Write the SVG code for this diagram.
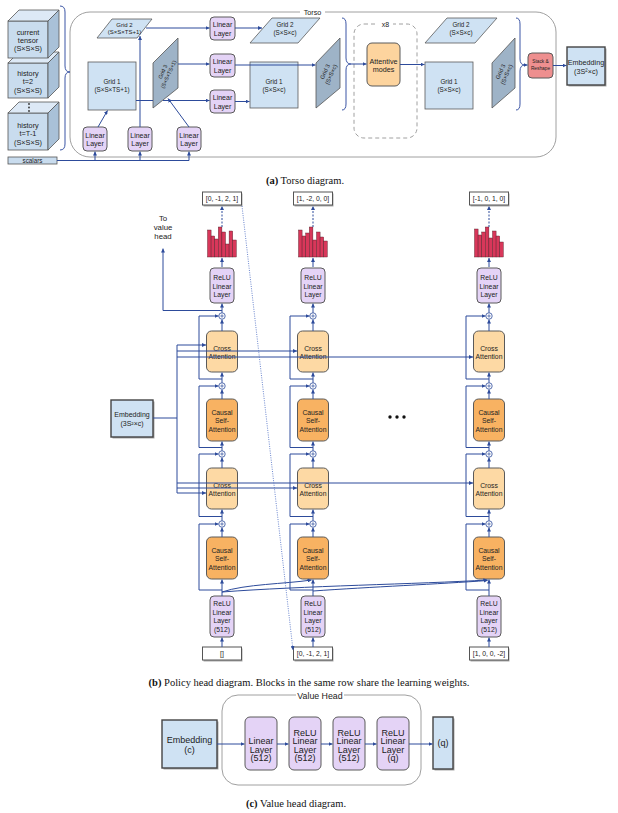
<svg xmlns="http://www.w3.org/2000/svg" width="618" height="813" viewBox="0 0 618 813">
<defs>
<style>
.t{font-family:"Liberation Sans",Arial,sans-serif;fill:#222;text-anchor:middle;dominant-baseline:central}
.cap{font-family:"Liberation Serif","Times New Roman",serif;font-size:10.5px;fill:#111;text-anchor:middle}
.c{stroke:#2d4b9b;stroke-width:1;fill:none}
.ca{stroke:#2d4b9b;stroke-width:1;fill:none;marker-end:url(#ar)}
.dash{stroke:#2d4b9b;stroke-width:1;fill:none;stroke-dasharray:2 1.5;marker-end:url(#ar)}
.dot{stroke:#5a78c8;stroke-width:0.9;fill:none;stroke-dasharray:1 1.3;marker-end:url(#ar)}
.br{stroke:#3b55a5;stroke-width:1;fill:none}
.blue{fill:#cfe2f3;stroke:#5a5a5a;stroke-width:0.8}
.dark{fill:#9eb3c7;stroke:#555;stroke-width:0.8}
.pur{fill:#e4d3f6;stroke:#5a5a5a;stroke-width:1}
.cross{fill:#fdd9a4;stroke:#5a5a5a;stroke-width:1}
.causal{fill:#f8b262;stroke:#5a5a5a;stroke-width:1}
.lbl{fill:#fff;stroke:#555;stroke-width:1}
.sh{fill:#aaa}
.emb{fill:#cfe2f3;stroke:#444;stroke-width:1.4}
.bar{fill:#d8375a;stroke:#4a1a22;stroke-width:0.4}
.circ{fill:#fff;stroke:#2d4b9b;stroke-width:0.8}
.frame{fill:none;stroke:#a0a0a0;stroke-width:1}
.cf{fill:#c9dcee;stroke:#555;stroke-width:0.8}
.ct{fill:#dde9f6;stroke:#555;stroke-width:0.8}
.cr{fill:#a9c1d8;stroke:#555;stroke-width:0.8}
</style>
<marker id="ar" viewBox="0 0 6 6" refX="6" refY="3" markerWidth="4" markerHeight="4" orient="auto" markerUnits="userSpaceOnUse">
<path d="M0,0 L6,3 L0,6 z" fill="#2d4b9b"/>
</marker>
</defs>
<rect width="618" height="813" fill="#fff"/>

<!-- ================= (a) TORSO ================= -->
<g id="torso-frame">
<rect class="frame" x="70" y="12" width="486" height="145" rx="20"/>
<rect x="300" y="8" width="25" height="8" fill="#fff"/>
<text class="t" x="312.5" y="12" font-size="7.2">Torso</text>
</g>

<g id="cube-history-t1">
<rect class="cf" x="8" y="113" width="40" height="37"/>
<polygon class="ct" points="8,113 19,102 59,102 48,113"/>
<polygon class="cr" points="48,113 59,102 59,139 48,150"/>
<text class="t" x="28" y="125" font-size="7.3">history</text>
<text class="t" x="28" y="133.5" font-size="7.3">t=T-1</text>
<text class="t" x="28" y="142" font-size="7.3">(S×S×S)</text>
</g>
<g id="cube-history-2">
<rect class="cf" x="8" y="63" width="40" height="35"/>
<polygon class="ct" points="8,63 19,52 59,52 48,63"/>
<polygon class="cr" points="48,63 59,52 59,87 48,98"/>
<text class="t" x="28" y="73" font-size="7.3">history</text>
<text class="t" x="28" y="81.5" font-size="7.3">t=2</text>
<text class="t" x="28" y="90" font-size="7.3">(S×S×S)</text>
</g>
<g id="cube-current">
<rect class="cf" x="8" y="21" width="40" height="37"/>
<polygon class="ct" points="8,21 19,10 59,10 48,21"/>
<polygon class="cr" points="48,21 59,10 59,47 48,58"/>
<text class="t" x="28" y="32" font-size="7.3">current</text>
<text class="t" x="28" y="40" font-size="7.3">tensor</text>
<text class="t" x="28" y="48" font-size="7.3">(S×S×S)</text>
</g>
<g id="cube-dots" fill="#333">
<circle cx="29" cy="104" r="0.9"/><circle cx="29" cy="107.5" r="0.9"/><circle cx="29" cy="111" r="0.9"/>
</g>
<g id="scalars">
<rect class="cf" x="8" y="157" width="49" height="7"/>
<text class="t" x="32.5" y="160.7" font-size="6.3">scalars</text>
</g>

<g id="t-lin-a"><rect class="pur" x="83" y="127" width="24" height="24" rx="4"/>
<text class="t" x="95" y="135" font-size="7">Linear</text><text class="t" x="95" y="143.5" font-size="7">Layer</text></g>
<g id="t-lin-b"><rect class="pur" x="128" y="127" width="24" height="24" rx="4"/>
<text class="t" x="140" y="135" font-size="7">Linear</text><text class="t" x="140" y="143.5" font-size="7">Layer</text></g>
<g id="t-lin-c"><rect class="pur" x="177" y="127" width="24" height="24" rx="4"/>
<text class="t" x="189" y="135" font-size="7">Linear</text><text class="t" x="189" y="143.5" font-size="7">Layer</text></g>

<g id="t-grid2-in">
<polygon class="blue" points="97,38 112,19 152,19 137,38"/>
<text class="t" x="124.5" y="24.5" font-size="6">Grid 2</text>
<text class="t" x="124.5" y="31.5" font-size="6">(S×S×TS+1)</text>
</g>
<g id="t-grid1-in">
<rect class="blue" x="88" y="62" width="48" height="48"/>
<text class="t" x="112" y="81" font-size="6.3">Grid 1</text>
<text class="t" x="112" y="89" font-size="6.3">(S×S×TS+1)</text>
</g>
<g id="t-grid3-in">
<polygon class="dark" points="153,63 178,38 178,88 153,108"/>
<g transform="translate(165.5,73) rotate(-66)">
<text class="t" x="0" y="-3.2" font-size="5.4">Grid 3</text>
<text class="t" x="0" y="3.2" font-size="5.4">(S×S×TS+1)</text>
</g>
</g>

<g id="t-lin-1"><rect class="pur" x="210" y="17" width="25" height="23" rx="4"/>
<text class="t" x="222.5" y="24.5" font-size="7">Linear</text><text class="t" x="222.5" y="33" font-size="7">Layer</text></g>
<g id="t-lin-2"><rect class="pur" x="210" y="54" width="25" height="23" rx="4"/>
<text class="t" x="222.5" y="61.5" font-size="7">Linear</text><text class="t" x="222.5" y="70" font-size="7">Layer</text></g>
<g id="t-lin-3"><rect class="pur" x="210" y="90" width="25" height="23" rx="4"/>
<text class="t" x="222.5" y="97.5" font-size="7">Linear</text><text class="t" x="222.5" y="106" font-size="7">Layer</text></g>

<g id="t-grid2-mid">
<polygon class="blue" points="250,43 272,18 320,18 298,43"/>
<text class="t" x="285" y="24.5" font-size="6.3">Grid 2</text>
<text class="t" x="285" y="32.5" font-size="6.3">(S×S×c)</text>
</g>
<g id="t-grid1-mid">
<rect class="blue" x="250" y="62" width="48" height="46"/>
<text class="t" x="274" y="81" font-size="6.3">Grid 1</text>
<text class="t" x="274" y="89" font-size="6.3">(S×S×c)</text>
</g>
<g id="t-grid3-mid">
<polygon class="dark" points="316,63 340,38 340,88 316,108"/>
<g transform="translate(328,73) rotate(-66)">
<text class="t" x="0" y="-3.4" font-size="5.8">Grid 3</text>
<text class="t" x="0" y="3.4" font-size="5.8">(S×S×c)</text>
</g>
</g>

<g id="x8-frame">
<rect x="354" y="24" width="63" height="114" rx="10" fill="none" stroke="#a0a0a0" stroke-width="1" stroke-dasharray="4 3"/>
<rect x="378" y="20" width="15" height="8" fill="#fff"/>
<text class="t" x="385.5" y="24.5" font-size="7">x8</text>
</g>
<g id="attentive-modes">
<rect x="367" y="43" width="33" height="43" rx="5" fill="#fdd49e" stroke="#5a5a5a" stroke-width="1"/>
<text class="t" x="383.5" y="61" font-size="7.2">Attentive</text>
<text class="t" x="383.5" y="69.5" font-size="7.2">modes</text>
</g>

<g id="t-grid2-out">
<polygon class="blue" points="425,43 447,18 497,18 475,43"/>
<text class="t" x="461" y="24.5" font-size="6.3">Grid 2</text>
<text class="t" x="461" y="32.5" font-size="6.3">(S×S×c)</text>
</g>
<g id="t-grid1-out">
<rect class="blue" x="425" y="62" width="48" height="47"/>
<text class="t" x="449" y="81" font-size="6.3">Grid 1</text>
<text class="t" x="449" y="89" font-size="6.3">(S×S×c)</text>
</g>
<g id="t-grid3-out">
<polygon class="dark" points="492,63 515,38 515,88 492,108"/>
<g transform="translate(503.5,73) rotate(-66)">
<text class="t" x="0" y="-3.4" font-size="5.8">Grid 3</text>
<text class="t" x="0" y="3.4" font-size="5.8">(S×S×c)</text>
</g>
</g>
<g id="stack-reshape">
<rect x="528" y="53" width="25" height="25" rx="4" fill="#ee8f8f" stroke="#5a5a5a" stroke-width="1"/>
<text class="t" x="540.5" y="61.5" font-size="4.8">Stack &amp;</text>
<text class="t" x="540.5" y="68.5" font-size="4.8">Reshape</text>
</g>
<g id="torso-embedding">
<rect class="sh" x="568.5" y="48.5" width="38" height="38"/>
<rect class="emb" x="567" y="47" width="38" height="38"/>
<text class="t" x="586" y="62" font-size="7.2">Embedding</text>
<text class="t" x="586" y="71.5" font-size="7.2">(3S²×c)</text>
</g>

<g id="torso-connectors">
<path class="br" d="M60,6 Q65,6 65,12 V66 Q65,72 70,72 Q65,72 65,78 V144 Q65,150 60,150"/>
<path class="c" d="M57,160.5 H189"/>
<path class="ca" d="M95,160.5 V151.5"/>
<path class="ca" d="M140,160.5 V151.5"/>
<path class="ca" d="M189,160.5 V151.5"/>
<path class="ca" d="M98,127 L107.5,110.5"/>
<path class="ca" d="M140,127 V36"/>
<path class="ca" d="M189,127 L168,98.5"/>
<path class="ca" d="M146,28 H209.5"/>
<path class="ca" d="M178,64 H209.5"/>
<path class="c" d="M136,100.5 H153"/>
<path class="ca" d="M163,100.5 H209.5"/>
<path class="ca" d="M235,28 H262"/>
<path class="ca" d="M235,65 H315.5"/>
<path class="ca" d="M235,101.5 H249.5"/>
<path class="br" d="M342,18 Q346,18 346,24 V58 Q346,64 351,64 Q346,64 346,70 V104 Q346,110 342,110"/>
<path class="ca" d="M351,64 H366.5"/>
<path class="ca" d="M400,64.5 H424.5"/>
<path class="br" d="M516,18 Q520,18 520,24 V59 Q520,65 525,65 Q520,65 520,71 V104 Q520,110 516,110"/>
<path class="ca" d="M525,65 H527.5"/>
<path class="ca" d="M553,65.5 H566.5"/>
</g>

<text class="cap" x="305" y="184"><tspan font-weight="bold">(a)</tspan> Torso diagram.</text>

<!-- ================= (b) POLICY HEAD ================= -->
<g id="p-embedding">
<rect class="sh" x="112.5" y="401.5" width="42" height="37"/>
<rect class="emb" x="111" y="400" width="42" height="37"/>
<text class="t" x="132" y="414.5" font-size="7">Embedding</text>
<text class="t" x="132" y="423.5" font-size="7">(3S²×c)</text>
</g>
<text class="t" x="163" y="218" font-size="7.8">To</text>
<text class="t" x="163" y="227" font-size="7.8">value</text>
<text class="t" x="163" y="236" font-size="7.8">head</text>
<g id="p-ellipsis" fill="#111">
<circle cx="390" cy="417" r="1.7"/><circle cx="397" cy="417" r="1.7"/><circle cx="404" cy="417" r="1.7"/>
</g>

<!-- Column 1 (c=222) -->
<g id="p1-out"><rect class="sh" x="203.5" y="193.5" width="39" height="13"/><rect class="lbl" x="202.5" y="192" width="39" height="13"/>
<text class="t" x="222" y="198.5" font-size="6.8">[0, -1, 2, 1]</text></g>
<g id="p1-hist">
<rect class="bar" x="207.5" y="230" width="3.6" height="27"/><rect class="bar" x="211.1" y="236" width="3.6" height="21"/>
<rect class="bar" x="214.7" y="239" width="3.6" height="18"/><rect class="bar" x="218.3" y="227" width="3.6" height="30"/>
<rect class="bar" x="221.9" y="232" width="3.6" height="25"/><rect class="bar" x="225.5" y="244" width="3.6" height="13"/>
<rect class="bar" x="229.1" y="231" width="3.6" height="26"/><rect class="bar" x="232.7" y="240" width="3.6" height="17"/>
</g>
<g id="p1-relu"><rect class="pur" x="210" y="268" width="24" height="35" rx="4"/>
<text class="t" x="222" y="277.5" font-size="6.8">ReLU</text><text class="t" x="222" y="286" font-size="6.8">Linear</text><text class="t" x="222" y="294.5" font-size="6.8">Layer</text></g>
<g id="p1-cross1"><rect class="cross" x="206.5" y="331" width="31" height="41" rx="5"/>
<text class="t" x="222" y="348" font-size="6.8">Cross</text><text class="t" x="222" y="356.5" font-size="6.8">Attention</text></g>
<g id="p1-causal1"><rect class="causal" x="206.5" y="399" width="31" height="42" rx="5"/>
<text class="t" x="222" y="412" font-size="6.8">Causal</text><text class="t" x="222" y="420.5" font-size="6.8">Self-</text><text class="t" x="222" y="429" font-size="6.8">Attention</text></g>
<g id="p1-cross2"><rect class="cross" x="206.5" y="468" width="31" height="41" rx="5"/>
<text class="t" x="222" y="485" font-size="6.8">Cross</text><text class="t" x="222" y="493.5" font-size="6.8">Attention</text></g>
<g id="p1-causal2"><rect class="causal" x="206.5" y="537" width="31" height="42" rx="5"/>
<text class="t" x="222" y="550" font-size="6.8">Causal</text><text class="t" x="222" y="558.5" font-size="6.8">Self-</text><text class="t" x="222" y="567" font-size="6.8">Attention</text></g>
<g id="p1-relu512"><rect class="pur" x="210" y="596" width="24" height="41" rx="4"/>
<text class="t" x="222" y="603.5" font-size="6.8">ReLU</text><text class="t" x="222" y="612" font-size="6.8">Linear</text><text class="t" x="222" y="620.5" font-size="6.8">Layer</text><text class="t" x="222" y="629" font-size="6.8">(512)</text></g>
<g id="p1-in"><rect class="sh" x="203.5" y="648.5" width="39" height="13"/><rect class="lbl" x="202.5" y="647" width="39" height="13"/>
<text class="t" x="222" y="653.5" font-size="6.8">[]</text></g>

<!-- Column 2 (c=313) -->
<g id="p2-out"><rect class="sh" x="294.5" y="193.5" width="39" height="13"/><rect class="lbl" x="293.5" y="192" width="39" height="13"/>
<text class="t" x="313" y="198.5" font-size="6.8">[1, -2, 0, 0]</text></g>
<g id="p2-hist">
<rect class="bar" x="298.5" y="230" width="3.6" height="27"/><rect class="bar" x="302.1" y="236" width="3.6" height="21"/>
<rect class="bar" x="305.7" y="233" width="3.6" height="24"/><rect class="bar" x="309.3" y="227" width="3.6" height="30"/>
<rect class="bar" x="312.9" y="240" width="3.6" height="17"/><rect class="bar" x="316.5" y="232" width="3.6" height="25"/>
<rect class="bar" x="320.1" y="237" width="3.6" height="20"/><rect class="bar" x="323.7" y="241" width="3.6" height="16"/>
</g>
<g id="p2-relu"><rect class="pur" x="301" y="268" width="24" height="35" rx="4"/>
<text class="t" x="313" y="277.5" font-size="6.8">ReLU</text><text class="t" x="313" y="286" font-size="6.8">Linear</text><text class="t" x="313" y="294.5" font-size="6.8">Layer</text></g>
<g id="p2-cross1"><rect class="cross" x="297.5" y="331" width="31" height="41" rx="5"/>
<text class="t" x="313" y="348" font-size="6.8">Cross</text><text class="t" x="313" y="356.5" font-size="6.8">Attention</text></g>
<g id="p2-causal1"><rect class="causal" x="297.5" y="399" width="31" height="42" rx="5"/>
<text class="t" x="313" y="412" font-size="6.8">Causal</text><text class="t" x="313" y="420.5" font-size="6.8">Self-</text><text class="t" x="313" y="429" font-size="6.8">Attention</text></g>
<g id="p2-cross2"><rect class="cross" x="297.5" y="468" width="31" height="41" rx="5"/>
<text class="t" x="313" y="485" font-size="6.8">Cross</text><text class="t" x="313" y="493.5" font-size="6.8">Attention</text></g>
<g id="p2-causal2"><rect class="causal" x="297.5" y="537" width="31" height="42" rx="5"/>
<text class="t" x="313" y="550" font-size="6.8">Causal</text><text class="t" x="313" y="558.5" font-size="6.8">Self-</text><text class="t" x="313" y="567" font-size="6.8">Attention</text></g>
<g id="p2-relu512"><rect class="pur" x="301" y="596" width="24" height="41" rx="4"/>
<text class="t" x="313" y="603.5" font-size="6.8">ReLU</text><text class="t" x="313" y="612" font-size="6.8">Linear</text><text class="t" x="313" y="620.5" font-size="6.8">Layer</text><text class="t" x="313" y="629" font-size="6.8">(512)</text></g>
<g id="p2-in"><rect class="sh" x="294.5" y="648.5" width="39" height="13"/><rect class="lbl" x="293.5" y="647" width="39" height="13"/>
<text class="t" x="313" y="653.5" font-size="6.8">[0, -1, 2, 1]</text></g>

<!-- Column 3 (c=489) -->
<g id="p3-out"><rect class="sh" x="470.5" y="193.5" width="39" height="13"/><rect class="lbl" x="469.5" y="192" width="39" height="13"/>
<text class="t" x="489" y="198.5" font-size="6.8">[-1, 0, 1, 0]</text></g>
<g id="p3-hist">
<rect class="bar" x="474.5" y="229" width="3.6" height="28"/><rect class="bar" x="478.1" y="235" width="3.6" height="22"/>
<rect class="bar" x="481.7" y="232" width="3.6" height="25"/><rect class="bar" x="485.3" y="227" width="3.6" height="30"/>
<rect class="bar" x="488.9" y="238" width="3.6" height="19"/><rect class="bar" x="492.5" y="231" width="3.6" height="26"/>
<rect class="bar" x="496.1" y="236" width="3.6" height="21"/><rect class="bar" x="499.7" y="242" width="3.6" height="15"/>
</g>
<g id="p3-relu"><rect class="pur" x="477" y="268" width="24" height="35" rx="4"/>
<text class="t" x="489" y="277.5" font-size="6.8">ReLU</text><text class="t" x="489" y="286" font-size="6.8">Linear</text><text class="t" x="489" y="294.5" font-size="6.8">Layer</text></g>
<g id="p3-cross1"><rect class="cross" x="473.5" y="331" width="31" height="41" rx="5"/>
<text class="t" x="489" y="348" font-size="6.8">Cross</text><text class="t" x="489" y="356.5" font-size="6.8">Attention</text></g>
<g id="p3-causal1"><rect class="causal" x="473.5" y="399" width="31" height="42" rx="5"/>
<text class="t" x="489" y="412" font-size="6.8">Causal</text><text class="t" x="489" y="420.5" font-size="6.8">Self-</text><text class="t" x="489" y="429" font-size="6.8">Attention</text></g>
<g id="p3-cross2"><rect class="cross" x="473.5" y="468" width="31" height="41" rx="5"/>
<text class="t" x="489" y="485" font-size="6.8">Cross</text><text class="t" x="489" y="493.5" font-size="6.8">Attention</text></g>
<g id="p3-causal2"><rect class="causal" x="473.5" y="537" width="31" height="42" rx="5"/>
<text class="t" x="489" y="550" font-size="6.8">Causal</text><text class="t" x="489" y="558.5" font-size="6.8">Self-</text><text class="t" x="489" y="567" font-size="6.8">Attention</text></g>
<g id="p3-relu512"><rect class="pur" x="477" y="596" width="24" height="41" rx="4"/>
<text class="t" x="489" y="603.5" font-size="6.8">ReLU</text><text class="t" x="489" y="612" font-size="6.8">Linear</text><text class="t" x="489" y="620.5" font-size="6.8">Layer</text><text class="t" x="489" y="629" font-size="6.8">(512)</text></g>
<g id="p3-in"><rect class="sh" x="470.5" y="648.5" width="39" height="13"/><rect class="lbl" x="469.5" y="647" width="39" height="13"/>
<text class="t" x="489" y="653.5" font-size="6.8">[1, 0, 0, -2]</text></g>

<!-- sum nodes -->
<g id="p-sums">
<g><circle class="circ" cx="222" cy="316" r="3.2"/><circle class="circ" cx="222" cy="386" r="3.2"/><circle class="circ" cx="222" cy="454" r="3.2"/><circle class="circ" cx="222" cy="524" r="3.2"/></g>
<g><circle class="circ" cx="313" cy="316" r="3.2"/><circle class="circ" cx="313" cy="386" r="3.2"/><circle class="circ" cx="313" cy="454" r="3.2"/><circle class="circ" cx="313" cy="524" r="3.2"/></g>
<g><circle class="circ" cx="489" cy="316" r="3.2"/><circle class="circ" cx="489" cy="386" r="3.2"/><circle class="circ" cx="489" cy="454" r="3.2"/><circle class="circ" cx="489" cy="524" r="3.2"/></g>
<path stroke="#2d4b9b" stroke-width="0.7" fill="none" d="M220.3,316h3.4M222,314.3v3.4M220.3,386h3.4M222,384.3v3.4M220.3,454h3.4M222,452.3v3.4M220.3,524h3.4M222,522.3v3.4
M311.3,316h3.4M313,314.3v3.4M311.3,386h3.4M313,384.3v3.4M311.3,454h3.4M313,452.3v3.4M311.3,524h3.4M313,522.3v3.4
M487.3,316h3.4M489,314.3v3.4M487.3,386h3.4M489,384.3v3.4M487.3,454h3.4M489,452.3v3.4M487.3,524h3.4M489,522.3v3.4"/>
</g>

<g id="policy-connectors">
<!-- column 1 -->
<path class="dash" d="M222,227 V206"/>
<path class="ca" d="M222,267 V258"/>
<path class="ca" d="M222,312.8 V303.5"/>
<path class="ca" d="M222,331 V319.5"/>
<path class="ca" d="M222,382.8 V372.5"/>
<path class="ca" d="M222,399 V389.5"/>
<path class="ca" d="M222,450.8 V441.5"/>
<path class="ca" d="M222,468 V457.5"/>
<path class="ca" d="M222,520.8 V509.5"/>
<path class="ca" d="M222,537 V527.5"/>
<path class="ca" d="M222,596 V579.5"/>
<path class="ca" d="M222,647 V637.5"/>
<path class="ca" d="M222,379 H199 V316 H218.5"/>
<path class="ca" d="M222,447.5 H199 V386 H218.5"/>
<path class="ca" d="M222,516.5 H199 V454 H218.5"/>
<path class="ca" d="M222,590 H199 V524 H218.5"/>
<!-- column 2 -->
<path class="dash" d="M313,227 V206"/>
<path class="ca" d="M313,267 V258"/>
<path class="ca" d="M313,312.8 V303.5"/>
<path class="ca" d="M313,331 V319.5"/>
<path class="ca" d="M313,382.8 V372.5"/>
<path class="ca" d="M313,399 V389.5"/>
<path class="ca" d="M313,450.8 V441.5"/>
<path class="ca" d="M313,468 V457.5"/>
<path class="ca" d="M313,520.8 V509.5"/>
<path class="ca" d="M313,537 V527.5"/>
<path class="ca" d="M313,596 V579.5"/>
<path class="ca" d="M313,647 V637.5"/>
<path class="ca" d="M313,379 H290 V316 H309.5"/>
<path class="ca" d="M313,447.5 H290 V386 H309.5"/>
<path class="ca" d="M313,516.5 H290 V454 H309.5"/>
<path class="ca" d="M313,590 H290 V524 H309.5"/>
<!-- column 3 -->
<path class="dash" d="M489,227 V206"/>
<path class="ca" d="M489,267 V258"/>
<path class="ca" d="M489,312.8 V303.5"/>
<path class="ca" d="M489,331 V319.5"/>
<path class="ca" d="M489,382.8 V372.5"/>
<path class="ca" d="M489,399 V389.5"/>
<path class="ca" d="M489,450.8 V441.5"/>
<path class="ca" d="M489,468 V457.5"/>
<path class="ca" d="M489,520.8 V509.5"/>
<path class="ca" d="M489,537 V527.5"/>
<path class="ca" d="M489,596 V579.5"/>
<path class="ca" d="M489,647 V637.5"/>
<path class="ca" d="M489,379 H466 V316 H485.5"/>
<path class="ca" d="M489,447.5 H466 V386 H485.5"/>
<path class="ca" d="M489,516.5 H466 V454 H485.5"/>
<path class="ca" d="M489,590 H466 V524 H485.5"/>
<!-- to value head -->
<path class="ca" d="M222,310.5 H163 V248.5"/>
<!-- embedding bus -->
<path class="c" d="M153,418 H177 M177,345 V493"/>
<path class="ca" d="M177,345 H206"/>
<path class="ca" d="M177,351 H297"/>
<path class="ca" d="M177,357 H473"/>
<path class="ca" d="M177,493 H206"/>
<path class="ca" d="M177,488 H297"/>
<path class="ca" d="M177,483 H473"/>
<!-- causal links across positions -->
<path class="ca" d="M222,592 C245,584 285,584 311.5,580"/>
<path class="ca" d="M222,592 C300,586 420,584 487.5,580"/>
<path class="ca" d="M313,591 C370,587 440,584 487.5,580.5"/>
<!-- dotted feedback -->
<path class="dot" d="M242,206 L293,650"/>
</g>

<text class="cap" x="309" y="686"><tspan font-weight="bold">(b)</tspan> Policy head diagram. Blocks in the same row share the learning weights.</text>

<!-- ================= (c) VALUE HEAD ================= -->
<g id="value-frame">
<rect class="frame" x="222" y="695" width="199" height="90" rx="16"/>
<rect x="296" y="690" width="48" height="10" fill="#fff"/>
<text class="t" x="320" y="696" font-size="8.8">Value Head</text>
</g>
<g id="v-embedding">
<rect class="sh" x="163.5" y="721.5" width="55" height="48"/>
<rect class="emb" x="162" y="720" width="55" height="48"/>
<text class="t" x="189.5" y="740" font-size="9">Embedding</text>
<text class="t" x="189.5" y="749.5" font-size="9">(c)</text>
</g>
<g id="v-lin1"><rect class="pur" x="245" y="717" width="32" height="53" rx="5"/>
<text class="t" x="261" y="741" font-size="9">Linear</text><text class="t" x="261" y="749.5" font-size="9">Layer</text><text class="t" x="261" y="758" font-size="9">(512)</text></g>
<g id="v-lin2"><rect class="pur" x="289" y="717" width="32" height="53" rx="5"/>
<text class="t" x="305" y="732.5" font-size="9">ReLU</text><text class="t" x="305" y="741" font-size="9">Linear</text><text class="t" x="305" y="749.5" font-size="9">Layer</text><text class="t" x="305" y="758" font-size="9">(512)</text></g>
<g id="v-lin3"><rect class="pur" x="333" y="717" width="32" height="53" rx="5"/>
<text class="t" x="349" y="732.5" font-size="9">ReLU</text><text class="t" x="349" y="741" font-size="9">Linear</text><text class="t" x="349" y="749.5" font-size="9">Layer</text><text class="t" x="349" y="758" font-size="9">(512)</text></g>
<g id="v-lin4"><rect class="pur" x="377" y="717" width="32" height="53" rx="5"/>
<text class="t" x="393" y="732.5" font-size="9">ReLU</text><text class="t" x="393" y="741" font-size="9">Linear</text><text class="t" x="393" y="749.5" font-size="9">Layer</text><text class="t" x="393" y="758" font-size="9">(q)</text></g>
<g id="v-out">
<rect class="sh" x="434.5" y="718.5" width="20" height="52"/>
<rect class="emb" x="433" y="717" width="20" height="52"/>
<text class="t" x="443" y="743" font-size="9">(q)</text>
</g>
<g id="value-connectors">
<path class="ca" d="M217,744 H244.5"/>
<path class="ca" d="M277,744 H288.5"/>
<path class="ca" d="M321,744 H332.5"/>
<path class="ca" d="M365,744 H376.5"/>
<path class="ca" d="M409,744 H432.5"/>
</g>

<text class="cap" x="296" y="807"><tspan font-weight="bold">(c)</tspan> Value head diagram.</text>
</svg>
